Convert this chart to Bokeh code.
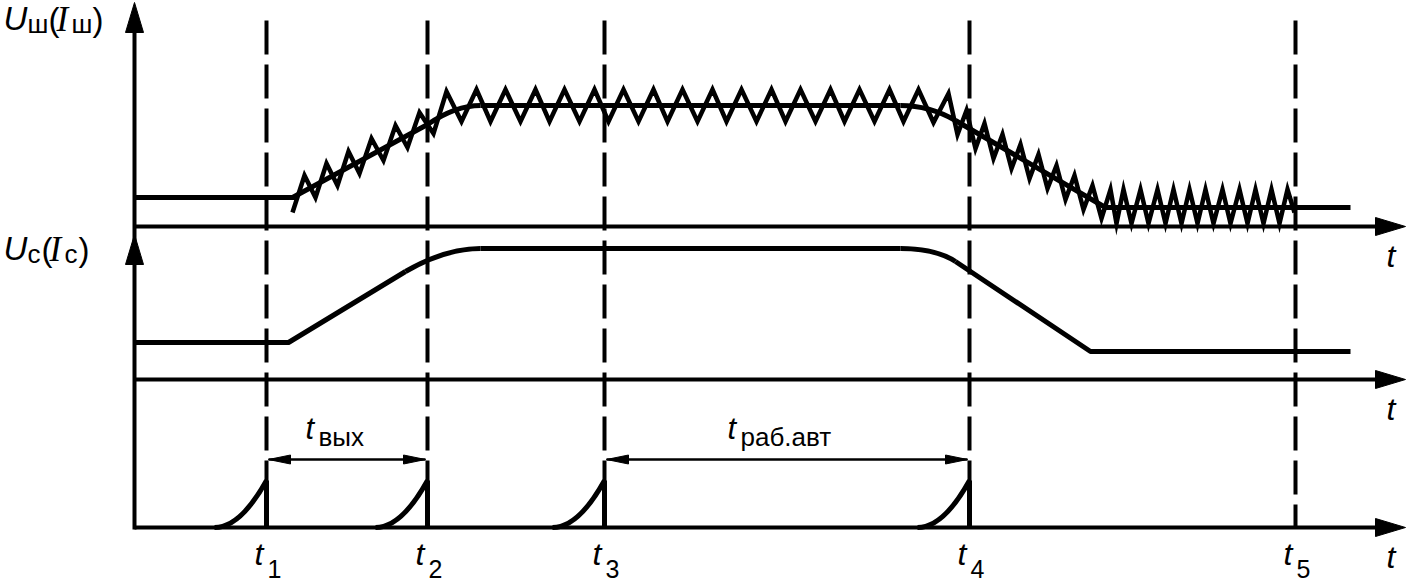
from bokeh.plotting import figure
from bokeh.models import Range1d
from bokeh.embed import file_html
from bokeh.resources import INLINE
from bokeh.core.properties import value

NAN = float("nan")

# ---------------- data (positions, in its pixel frame) -------------
t_marks = [266, 427, 604, 969, 1295]          # event times t1..t5
t_subs = ["1", "2", "3", "4", "5"]
time_axes_y = [226, 379, 527]                 # baselines of the three time axes
axis_x0 = 134                                 # common vertical axis
axis_tip = 1405
dash_top = 20

# top panel: U_sh mean level
top_mean_x = [134, 297, NAN, 292, 427]
top_mean_y = [197, 197, NAN, 197, 124]
top_plateau_x = [480, 900]
top_plateau_y = [105, 105]
top_desc_x = [955, 1105, 1350]
top_desc_y = [120, 207, 207]
top_bez = [  # x0, y0, cx, cy, x1, y1
    (427, 124, 455, 105, 480, 105),
    (900, 105, 929, 105, 955, 120),
]
# ripple (zigzag) vertices
ripple_x = [292, 304, 315, 326, 337, 348, 359, 371, 383, 395, 407, 419, 433, 446,
            461, 476, 490, 505, 520, 535, 549, 564, 579, 594, 608, 623, 638, 653, 667, 682,
            697, 712, 726, 741, 756, 771, 785, 800, 815, 830, 844, 859, 874, 889, 903, 918,
            933, 948,
            957, 966, 975, 984, 993, 1002, 1011, 1020, 1029, 1038, 1047, 1056, 1065, 1074,
            1083, 1092, 1101, 1110,
            1116, 1123, 1131, 1140, 1148, 1157, 1165, 1173, 1181, 1189, 1197, 1205, 1213,
            1222, 1230, 1239, 1247, 1255, 1263, 1271, 1279, 1287, 1294]
ripple_y = [212, 175, 197, 163, 185, 151, 173, 138, 160, 125, 147, 112, 133, 91,
            121, 89, 121, 89, 121, 89, 121, 89, 121, 89, 121, 89, 121, 89, 121, 89,
            121, 89, 121, 89, 121, 89, 121, 89, 121, 89, 121, 89, 121, 89, 121, 89,
            122, 93,
            134, 110, 148, 123, 158, 134, 168, 144, 178, 154, 188, 165, 199, 175,
            209, 185, 218, 189,
            223, 189, 223, 189, 223, 189, 223, 189, 223, 189, 223, 189, 223,
            189, 223, 189, 223, 189, 223, 189, 223, 189, 212]

# middle panel: U_c
mid_x = [134, 288, 405, NAN, 480, 900, NAN, 955, 1090, 1350]
mid_y = [342, 342, 271, NAN, 248, 248, NAN, 261, 351, 351]
mid_bez = [
    (405, 271, 445, 248, 480, 248),
    (900, 248, 935, 248, 955, 261),
]

# bottom panel pulses
pulse_width = 52
pulse_top = 480

# interval markers
intervals = [(266, 427, "вых", 305), (604, 969, "раб.авт", 727)]
interval_y = 459

# ---------------- figure -------------
W, H = 1412, 583
p = figure(width=W, height=H, x_range=Range1d(0, W), y_range=Range1d(H, 0),
           output_backend="svg", toolbar_location=None, min_border=0,
           x_axis_location=None, y_axis_location=None)
p.grid.visible = False
p.outline_line_color = None

BLK = "black"
LW = 5
SANS = value("Liberation Sans")
DY = -12   # text placement correction

# vertical axis
p.line([axis_x0, axis_x0], [30, time_axes_y[-1] + 2], line_color=BLK, line_width=4)
up_tips = [(axis_x0, 2), (axis_x0, 234)]
hl, hw = 30, 9
p.patches([[tx - hw, tx, tx + hw] for tx, ty in up_tips],
          [[ty + hl, ty, ty + hl] for tx, ty in up_tips],
          fill_color=BLK, line_color=BLK, line_width=1)

# horizontal time axes
for ay in time_axes_y:
    p.line([axis_x0, axis_tip - hl + 2], [ay, ay], line_color=BLK, line_width=4)
p.patches([[axis_tip - hl, axis_tip, axis_tip - hl] for _ in time_axes_y],
          [[ay - hw, ay, ay + hw] for ay in time_axes_y],
          fill_color=BLK, line_color=BLK, line_width=1)

# dashed event lines
for t in t_marks:
    p.line([t, t], [dash_top, time_axes_y[-1]], line_color=BLK, line_width=4,
           line_dash="34 10")

# top signal
p.line(top_mean_x, top_mean_y, line_color=BLK, line_width=LW, line_join="round")
p.line(top_plateau_x, top_plateau_y, line_color=BLK, line_width=LW)
p.line(top_desc_x, top_desc_y, line_color=BLK, line_width=LW, line_join="round")
p.quadratic(x0=[b[0] for b in top_bez], y0=[b[1] for b in top_bez],
            cx=[b[2] for b in top_bez], cy=[b[3] for b in top_bez],
            x1=[b[4] for b in top_bez], y1=[b[5] for b in top_bez],
            line_color=BLK, line_width=LW)
p.line(ripple_x, ripple_y, line_color=BLK, line_width=4.5, line_join="miter")

# middle signal
p.line(mid_x, mid_y, line_color=BLK, line_width=LW, line_join="round")
p.quadratic(x0=[b[0] for b in mid_bez], y0=[b[1] for b in mid_bez],
            cx=[b[2] for b in mid_bez], cy=[b[3] for b in mid_bez],
            x1=[b[4] for b in mid_bez], y1=[b[5] for b in mid_bez],
            line_color=BLK, line_width=LW)

# bottom pulses
base = time_axes_y[-1]
pt = t_marks[:4]
p.quadratic(x0=[t - pulse_width for t in pt], y0=[base] * 4,
            cx=[t - pulse_width / 2 for t in pt], cy=[base] * 4,
            x1=pt, y1=[pulse_top] * 4, line_color=BLK, line_width=LW)
p.segment(x0=pt, y0=[pulse_top] * 4, x1=pt, y1=[base] * 4, line_color=BLK, line_width=LW)

# interval double arrows
al, aw = 22, 4.5
for a, b, sub, tx in intervals:
    p.line([a + 2, b - 2], [interval_y, interval_y], line_color=BLK, line_width=2.5)
    p.patches([[a + 2, a + 2 + al, a + 2 + al], [b - 2, b - 2 - al, b - 2 - al]],
              [[interval_y, interval_y - aw, interval_y + aw],
               [interval_y, interval_y - aw, interval_y + aw]],
              fill_color=BLK, line_color=BLK, line_width=1)
    p.text(x=[tx], y=[440 + DY], text=["t"], text_font=SANS,
           text_font_style="italic", text_font_size="31px", text_baseline="alphabetic",
           text_align="left", text_color=BLK)
    p.text(x=[tx + 13], y=[448 + DY], text=[sub], text_font=SANS,
           text_font_size="26px", text_baseline="alphabetic", text_align="left",
           text_color=BLK)

# tick labels t1..t5
p.text(x=[t - 12 for t in t_marks], y=[565 + DY] * 5, text=["t"] * 5,
       text_font=SANS, text_font_style="italic",
       text_font_size="32px", text_baseline="alphabetic", text_align="left", text_color=BLK)
p.text(x=[t + 1 for t in t_marks], y=[580 + DY] * 5, text=t_subs,
       text_font=SANS, text_font_size="25px",
       text_baseline="alphabetic", text_align="left", text_color=BLK)

# "t" at each axis end
p.text(x=[1386] * 3, y=[ay + 41 + DY for ay in time_axes_y], text=["t"] * 3,
       text_font=SANS, text_font_style="italic",
       text_font_size="32px", text_baseline="alphabetic", text_align="left", text_color=BLK)

# axis titles
def title(y0, sub, sw):
    y0 = y0 + DY
    p.text(x=[3], y=[y0], text=["U"], text_font=SANS,
           text_font_style="italic", text_font_size="33px", text_baseline="alphabetic",
           text_color=BLK)
    p.text(x=[27], y=[y0 + 5], text=[sub], text_font=SANS,
           text_font_size="26px", text_baseline="alphabetic", text_color=BLK)
    x_par = 27 + sw + 1
    p.text(x=[x_par], y=[y0 + 1], text=["("], text_font=SANS,
           text_font_size="33px", text_baseline="alphabetic", text_color=BLK)
    p.text(x=[x_par + 8], y=[y0 + 1], text=["I"], text_font=value("Liberation Serif"),
           text_font_style="italic", text_font_size="35px", text_baseline="alphabetic",
           text_color=BLK)
    p.text(x=[x_par + 23], y=[y0 + 5], text=[sub], text_font=SANS,
           text_font_size="26px", text_baseline="alphabetic", text_color=BLK)
    p.text(x=[x_par + 24 + sw], y=[y0 + 1], text=[")"], text_font=SANS,
           text_font_size="33px", text_baseline="alphabetic", text_color=BLK)

title(30, "ш", 20)
title(260, "с", 13)

open("out.html", "w").write(file_html(p, INLINE))
